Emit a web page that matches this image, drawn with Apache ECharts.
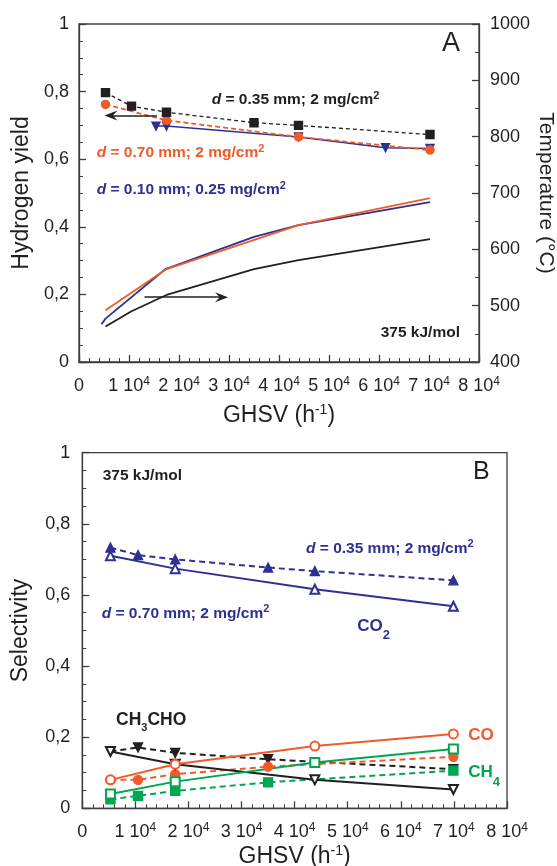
<!DOCTYPE html>
<html><head><meta charset="utf-8">
<script src="https://cdn.jsdelivr.net/npm/echarts@6/dist/echarts.min.js"></script>
<style>html,body{margin:0;padding:0;background:#fff}#c{width:557px;height:866px}</style>
</head><body><div id="c"></div>
<script>
// ---------------- DATA ----------------
const xTickValues = [0, 10000, 20000, 30000, 40000, 50000, 60000, 70000, 80000];

// Panel A : hydrogen yield (left axis)
const ghsvA_black = [5300, 10500, 17500, 35000, 43900, 70200];
const h2_black    = [0.797, 0.757, 0.739, 0.708, 0.700, 0.673];
const ghsvA_red   = [5300, 17500, 43900, 70200];
const h2_red      = [0.762, 0.715, 0.666, 0.627];
const ghsvA_blue  = [15400, 17500, 43900, 61300, 70200];
const h2_blue     = [0.698, 0.698, 0.666, 0.634, 0.632];

// Panel A : temperature (right axis)
const ghsvT_black = [5300, 10500, 17500, 35000, 43900, 70200];
const temp_black  = [463, 490, 519, 565, 581, 618];
const ghsvT_red   = [5300, 17500, 43900, 70200];
const temp_red    = [492, 565, 643, 691];
const ghsvT_blue  = [4500, 5300, 17300, 35000, 43900, 70200];
const temp_blue   = [467, 477, 565, 622, 643, 684];

// Panel A arrows (data units)
const arrowH2   = [[15600, 0.729], [6400, 0.729]];
const arrowTemp = [[13100, 515], [28500, 515]];

// Panel B : selectivity
const ghsvB_open   = [5300, 17500, 43800, 69900];
const co2_open     = [0.710, 0.674, 0.616, 0.568];
const ch3cho_open  = [0.160, 0.124, 0.080, 0.053];
const co_open      = [0.080, 0.124, 0.175, 0.209];
const ch4_open     = [0.040, 0.075, 0.129, 0.167];

const ghsvB_co2f   = [5300, 10500, 17500, 35000, 43800, 69900];
const co2_filled   = [0.733, 0.712, 0.700, 0.677, 0.667, 0.641];
const ghsvB_filled = [5300, 10500, 17500, 35000, 69900];
const ch3cho_filled= [0.160, 0.171, 0.156, 0.138, 0.110];
const co_filled    = [0.080, 0.080, 0.096, 0.117, 0.145];
const ch4_filled   = [0.025, 0.035, 0.049, 0.073, 0.106];

// ---------------- STYLE ----------------
const FONT = '"Liberation Sans", Arial, Helvetica, sans-serif';
const TXT = '#231f20', AX = '#3d3d3d';
const RED = '#f15a29', BLUE = '#2e3192', GREEN = '#00a651', BLACK = '#231f20';

function pairs(xs, ys) { return xs.map((x, i) => [x, ys[i]]); }

const xLabelRich = {
  a: { fontSize: 18, fontFamily: FONT, color: TXT, lineHeight: 20 },
  s: { fontSize: 12, fontFamily: FONT, color: TXT, lineHeight: 12, padding: [0, 0, 9, 0] }
};
const nameRich = {
  a: { fontSize: 23, fontFamily: FONT, color: TXT, lineHeight: 24 },
  s: { fontSize: 14, fontFamily: FONT, color: TXT, lineHeight: 14, padding: [0, 0, 11, 0] }
};

function makeX(gridIndex, nameGap) {
  return {
    type: 'value', gridIndex, min: xTickValues[0], max: xTickValues[xTickValues.length - 1],
    interval: xTickValues[1] - xTickValues[0],
    axisLine: { show: true, lineStyle: { color: AX, width: 1.3 } },
    axisTick: { show: true, inside: true, length: 7, lineStyle: { color: AX, width: 1.3 } },
    minorTick: { show: true, splitNumber: 5, length: 4, lineStyle: { color: AX, width: 1 } },
    splitLine: { show: false }, minorSplitLine: { show: false },
    axisLabel: {
      margin: 14, rich: xLabelRich,
      formatter: v => v === 0 ? '{a|0}' : '{a|' + (v / 10000) + ' 10}{s|4}'
    },
    name: '{a|GHSV (h}{s|-1}{a|)}', nameLocation: 'middle', nameGap,
    nameTextStyle: { rich: nameRich }
  };
}
function commaFmt(v) { return v === 0 ? '0' : (v === 1 ? '1' : v.toFixed(1).replace('.', ',')); }
function makeY(gridIndex, opts) {
  return Object.assign({
    type: 'value', gridIndex,
    axisLine: { show: true, lineStyle: { color: AX, width: 1.3 } },
    axisTick: { show: true, inside: true, length: 7, lineStyle: { color: AX, width: 1.3 } },
    minorTick: { show: true, length: 4, lineStyle: { color: AX, width: 1 } },
    splitLine: { show: false }, minorSplitLine: { show: false },
    nameLocation: 'middle',
    nameTextStyle: { fontSize: 23, fontFamily: FONT, color: TXT }
  }, opts);
}

function lineSeries(o) {
  const s = {
    type: 'line', xAxisIndex: o.xi, yAxisIndex: o.yi, data: o.data,
    symbol: o.symbol || 'none', symbolSize: o.size || 8, symbolRotate: o.rot || 0,
    showAllSymbol: true, silent: true, animation: false,
    lineStyle: { color: o.color, width: o.width || 1.6, type: o.dash || 'solid' },
    itemStyle: { color: o.color, borderColor: o.color, borderWidth: o.bw || 1.4 },
    emphasis: { disabled: true }
  };
  if (o.markLine) s.markLine = o.markLine;
  return s;
}
function arrow(pts) {
  return {
    silent: true, animation: false,
    symbol: ['none', 'path://M5,0 L10,14 L5,9 L0,14 Z'], symbolSize: [10, 13],
    label: { show: false },
    lineStyle: { color: BLACK, width: 1.5, type: 'solid' },
    emphasis: { disabled: true },
    data: [[{ coord: pts[0] }, { coord: pts[1] }]]
  };
}

// rich text for annotations
function rich(color, size, supP, subSize, subP) {
  return {
    i: { fontStyle: 'italic', fontWeight: 'bold', fontSize: size, fontFamily: FONT, fill: color, lineHeight: size + 2 },
    b: { fontWeight: 'bold', fontSize: size, fontFamily: FONT, fill: color, lineHeight: size + 2 },
    p: { fontWeight: 'bold', fontSize: 11, fontFamily: FONT, fill: color, lineHeight: 11, padding: [0, 0, supP || 8, 0] },
    u: { fontWeight: 'bold', fontSize: subSize || 12, fontFamily: FONT, fill: color, lineHeight: subSize || 12, padding: [subP || 16, 0, 0, 0] }
  };
}
function txt(x, y, text, r) {
  return { type: 'text', x, y, silent: true, style: { text, rich: r, align: 'left', verticalAlign: 'middle' } };
}
function plain(x, y, text, size, weight) {
  return { type: 'text', x, y, silent: true, style: { text, fill: TXT, fontSize: size, fontWeight: weight || 'normal', fontFamily: FONT, align: 'left', verticalAlign: 'middle' } };
}

const option = {
  animation: false,
  backgroundColor: '#ffffff',
  textStyle: { fontFamily: FONT, color: TXT },
  grid: [
    { left: 79, top: 24, right: 78, bottom: 504, show: true, borderColor: AX, borderWidth: 1.3, backgroundColor: 'transparent', outerBoundsMode: 'none' },
    { left: 82.3, top: 452.7, right: 50, bottom: 57.7, show: true, borderColor: AX, borderWidth: 1.3, backgroundColor: 'transparent', outerBoundsMode: 'none' }
  ],
  xAxis: [makeX(0, 42), makeX(1, 33)],
  yAxis: [
    makeY(0, { min: 0, max: 1, interval: 0.2, minorTick: { show: true, splitNumber: 4, length: 4, lineStyle: { color: AX, width: 1 } },
      axisLabel: { margin: 10, fontSize: 18, fontFamily: FONT, color: TXT, formatter: commaFmt },
      name: 'Hydrogen yield', nameGap: 46 }),
    makeY(0, { position: 'right', min: 400, max: 1000, interval: 100, minorTick: { show: true, splitNumber: 2, length: 4, lineStyle: { color: AX, width: 1 } },
      axisLabel: { margin: 11, fontSize: 18, fontFamily: FONT, color: TXT, formatter: v => String(Math.round(v)) },
      name: 'Temperature (°C)', nameGap: 56, nameRotate: -90, nameMoveOverlap: false,
      nameTextStyle: { fontSize: 21, fontFamily: FONT, color: TXT } }),
    makeY(1, { min: 0, max: 1, interval: 0.2, minorTick: { show: true, splitNumber: 4, length: 4, lineStyle: { color: AX, width: 1 } },
      axisLabel: { margin: 12, fontSize: 18, fontFamily: FONT, color: TXT, formatter: commaFmt },
      name: 'Selectivity', nameGap: 50 })
  ],
  series: [
    // Panel A temperatures
    lineSeries({ xi: 0, yi: 1, data: pairs(ghsvT_black, temp_black), color: BLACK, width: 1.8, markLine: arrow(arrowTemp) }),
    lineSeries({ xi: 0, yi: 1, data: pairs(ghsvT_blue, temp_blue), color: BLUE, width: 1.8 }),
    lineSeries({ xi: 0, yi: 1, data: pairs(ghsvT_red, temp_red), color: RED, width: 1.8 }),
    // Panel A hydrogen yield
    lineSeries({ xi: 0, yi: 0, data: pairs(ghsvA_blue, h2_blue), color: BLUE, width: 1.5, symbol: 'triangle', rot: 180, size: 8 }),
    lineSeries({ xi: 0, yi: 0, data: pairs(ghsvA_red, h2_red), color: RED, width: 1.8, dash: [5, 3], symbol: 'circle', size: 8 }),
    lineSeries({ xi: 0, yi: 0, data: pairs(ghsvA_black, h2_black), color: BLACK, width: 1.3, dash: [4, 3], symbol: 'rect', size: 8, markLine: arrow(arrowH2) }),
    // Panel B dashed (filled markers)
    lineSeries({ xi: 1, yi: 2, data: pairs(ghsvB_co2f, co2_filled), color: BLUE, width: 2, dash: [6, 4], symbol: 'triangle', size: 9 }),
    lineSeries({ xi: 1, yi: 2, data: pairs(ghsvB_filled, ch3cho_filled), color: BLACK, width: 2, dash: [6, 4], symbol: 'triangle', rot: 180, size: 9 }),
    lineSeries({ xi: 1, yi: 2, data: pairs(ghsvB_filled, co_filled), color: RED, width: 2, dash: [6, 4], symbol: 'circle', size: 9 }),
    lineSeries({ xi: 1, yi: 2, data: pairs(ghsvB_filled, ch4_filled), color: GREEN, width: 2, dash: [6, 4], symbol: 'rect', size: 9 }),
    // Panel B solid (open markers)
    lineSeries({ xi: 1, yi: 2, data: pairs(ghsvB_open, co2_open), color: BLUE, width: 2, symbol: 'emptyTriangle', size: 9 }),
    lineSeries({ xi: 1, yi: 2, data: pairs(ghsvB_open, ch3cho_open), color: BLACK, width: 2, symbol: 'emptyTriangle', rot: 180, size: 9 }),
    lineSeries({ xi: 1, yi: 2, data: pairs(ghsvB_open, co_open), color: RED, width: 2, symbol: 'emptyCircle', size: 9 }),
    lineSeries({ xi: 1, yi: 2, data: pairs(ghsvB_open, ch4_open), color: GREEN, width: 2, symbol: 'emptyRect', size: 9 })
  ],
  graphic: [
    plain(442, 44, 'A', 27),
    txt(211.7, 99.5, '{i|d}{b| = 0.35 mm; 2 mg/cm}{p|2}', rich(BLACK, 15.5, 8)),
    txt(96.7, 153, '{i|d}{b| = 0.70 mm; 2 mg/cm}{p|2}', rich(RED, 15.5, 8)),
    txt(96.7, 189.5, '{i|d}{b| = 0.10 mm; 0.25 mg/cm}{p|2}', rich(BLUE, 15.5, 8)),
    plain(380.7, 333, '375 kJ/mol', 15.5, 'bold'),

    plain(473, 472, 'B', 25),
    plain(102.7, 476, '375 kJ/mol', 15.5, 'bold'),
    txt(306, 548.7, '{i|d}{b| = 0.35 mm; 2 mg/cm}{p|2}', rich(BLUE, 15.5, 10)),
    txt(101.7, 614, '{i|d}{b| = 0.70 mm; 2 mg/cm}{p|2}', rich(BLUE, 15.5, 10)),
    txt(357.3, 626.7, '{b|CO}{u|2}', rich(BLUE, 17, 8, 13, 18)),
    txt(116, 720, '{b|CH}{u|3}{b|CHO}', rich(BLACK, 17.5, 8, 11, 16)),
    txt(468.3, 735, '{b|CO}', rich(RED, 17, 8)),
    txt(468.3, 772, '{b|CH}{u|4}', rich(GREEN, 17, 8, 13, 21))
  ]
};

const chart = echarts.init(document.getElementById('c'), null, { renderer: 'canvas', width: 557, height: 866 });
chart.setOption(option);
</script>
</body></html>
